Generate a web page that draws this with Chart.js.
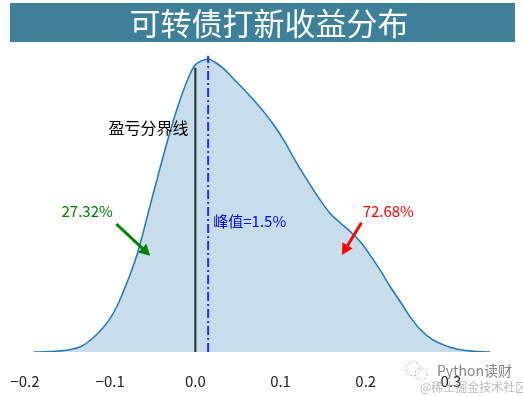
<!DOCTYPE html>
<html lang="zh">
<head>
<meta charset="UTF-8">
<title>可转债打新收益分布</title>
<script src="https://cdn.jsdelivr.net/npm/chart.js@4"></script>
<style>
  body { margin: 0; background: #fff; }
</style>
</head>
<body>
<canvas id="kde" width="523" height="396"></canvas>
<script>
// 收益率 (x) 与核密度估计值 (y)
const returns = [-0.190, -0.170, -0.150, -0.135, -0.123, -0.111, -0.100, -0.092, -0.085, -0.076,
                 -0.068, -0.061, -0.053, -0.045, -0.038, -0.029, -0.018, -0.006, 0.000, 0.008,
                 0.015, 0.023, 0.031, 0.039, 0.047, 0.059, 0.070, 0.082, 0.094, 0.106,
                 0.117, 0.129, 0.141, 0.158, 0.170, 0.182, 0.194, 0.205, 0.217, 0.229,
                 0.241, 0.252, 0.264, 0.279, 0.299, 0.319, 0.346];
const density = [0, 0.006, 0.025, 0.065, 0.15, 0.27, 0.42, 0.57, 0.74, 0.98,
                 1.23, 1.50, 1.83, 2.15, 2.43, 2.77, 3.14, 3.47, 3.58, 3.63,
                 3.65, 3.61, 3.55, 3.47, 3.38, 3.25, 3.12, 2.97, 2.80, 2.60,
                 2.39, 2.18, 1.98, 1.73, 1.61, 1.50, 1.37, 1.21, 1.02, 0.81,
                 0.62, 0.44, 0.28, 0.15, 0.06, 0.015, 0];
const tickValues = [-0.2, -0.1, 0.0, 0.1, 0.2, 0.3];
const tickLabels = ['\u22120.2', '\u22120.1', '0.0', '0.1', '0.2', '0.3'];
const breakEven = 0;        // 盈亏分界线
const breakEvenTop = 3.54;
const peakReturn = 0.015;   // 峰值
const peakTop = 3.69;
const lossShare = '27.32%';
const gainShare = '72.68%';

const cjk = '"Noto Sans CJK SC", "Noto Sans", sans-serif';

// 标题横幅、标注文字、箭头、水印
const decorations = {
  id: 'decorations',
  beforeDraw(chart) {
    const ctx = chart.ctx;
    ctx.save();
    ctx.fillStyle = '#3e8099';
    ctx.fillRect(10, 3, 505, 39);
    ctx.fillStyle = '#ffffff';
    ctx.font = '31px ' + cjk;
    ctx.textAlign = 'center';
    ctx.textBaseline = 'middle';
    ctx.fillText('可转债打新收益分布', 269, 23);
    ctx.restore();
  },
  afterDraw(chart) {
    const ctx = chart.ctx;
    const x = chart.scales.x, y = chart.scales.y;
    const px = v => x.getPixelForValue(v);
    const py = v => y.getPixelForValue(v);

    function arrow(x0, y0, x1, y1, color) {
      const ax = px(x0), ay = py(y0), bx = px(x1), by = py(y1);
      const ang = Math.atan2(by - ay, bx - ax);
      const head = 11, half = 6;
      const hx = bx - head * Math.cos(ang), hy = by - head * Math.sin(ang);
      ctx.strokeStyle = color;
      ctx.fillStyle = color;
      ctx.lineWidth = 3;
      ctx.beginPath();
      ctx.moveTo(ax, ay);
      ctx.lineTo(hx, hy);
      ctx.stroke();
      ctx.beginPath();
      ctx.moveTo(bx, by);
      ctx.lineTo(hx + half * Math.sin(ang), hy - half * Math.cos(ang));
      ctx.lineTo(hx - half * Math.sin(ang), hy + half * Math.cos(ang));
      ctx.closePath();
      ctx.fill();
    }

    ctx.save();
    ctx.textBaseline = 'middle';

    ctx.font = '16px ' + cjk;
    ctx.fillStyle = '#000000';
    ctx.textAlign = 'right';
    ctx.fillText('盈亏分界线', px(-0.008), py(2.79));

    ctx.font = '15px ' + cjk;
    ctx.fillStyle = '#0000ff';
    ctx.textAlign = 'left';
    ctx.fillText('峰值=' + (peakReturn * 100).toFixed(1) + '%', px(0.021), py(1.63));

    ctx.textAlign = 'center';
    ctx.fillStyle = '#008000';
    ctx.fillText(lossShare, px(-0.127), py(1.75));
    ctx.fillStyle = '#ff0000';
    ctx.fillText(gainShare, px(0.2265), py(1.75));

    arrow(-0.0927, 1.595, -0.053, 1.20, '#008000');
    arrow(0.195, 1.61, 0.172, 1.21, '#ff0000');

    // 水印
    ctx.strokeStyle = 'rgba(150,150,150,0.7)';
    ctx.lineWidth = 1;
    ctx.setLineDash([2, 2]);
    ctx.beginPath();
    ctx.arc(413, 369, 7, 0, Math.PI * 2);
    ctx.stroke();
    ctx.beginPath();
    ctx.arc(421, 374, 6, 0, Math.PI * 2);
    ctx.stroke();
    ctx.setLineDash([]);
    ctx.textAlign = 'left';
    ctx.fillStyle = 'rgba(90,90,90,0.75)';
    ctx.font = '14px ' + cjk;
    ctx.fillText('Python读财', 437, 371);
    ctx.fillStyle = 'rgba(170,170,170,0.8)';
    ctx.font = '12px ' + cjk;
    ctx.fillText('@稀土掘金技术社区', 420, 387);
    ctx.restore();
  }
};

new Chart(document.getElementById('kde'), {
  type: 'line',
  data: {
    datasets: [
      {
        data: [{ x: breakEven, y: 0 }, { x: breakEven, y: breakEvenTop }],
        borderColor: '#2b2b2b',
        borderWidth: 2,
        pointRadius: 0,
        fill: false,
        order: 1
      },
      {
        data: [{ x: peakReturn, y: 0 }, { x: peakReturn, y: peakTop }],
        borderColor: '#2a2aff',
        borderWidth: 2,
        borderDash: [9, 3, 2, 3],
        pointRadius: 0,
        fill: false,
        order: 0
      },
      {
        data: returns.map((r, i) => ({ x: r, y: density[i] })),
        borderColor: '#1f77b4',
        borderWidth: 1.5,
        backgroundColor: 'rgba(31,119,180,0.25)',
        pointRadius: 0,
        fill: 'origin',
        cubicInterpolationMode: 'monotone',
        order: 2
      }
    ]
  },
  options: {
    responsive: false,
    animation: false,
    layout: { padding: { left: 25, right: 21, top: 47, bottom: 6 } },
    plugins: {
      legend: { display: false },
      tooltip: { enabled: false }
    },
    scales: {
      x: {
        type: 'linear',
        min: -0.2,
        max: 0.36,
        grid: { display: false, drawTicks: false },
        border: { display: false },
        afterBuildTicks: axis => { axis.ticks = tickValues.map(v => ({ value: v })); },
        afterFit: axis => {
          axis.paddingLeft = 0;
          axis.paddingRight = 0;
          axis.height = 38;
        },
        ticks: {
          padding: 20,
          color: '#222222',
          font: { family: cjk, size: 15 },
          maxRotation: 0,
          callback: (v) => {
            const i = tickValues.findIndex(t => Math.abs(t - v) < 1e-9);
            return i >= 0 ? tickLabels[i] : '';
          }
        }
      },
      y: {
        display: false,
        min: 0,
        max: 3.8
      }
    }
  },
  plugins: [decorations]
});
</script>
</body>
</html>
